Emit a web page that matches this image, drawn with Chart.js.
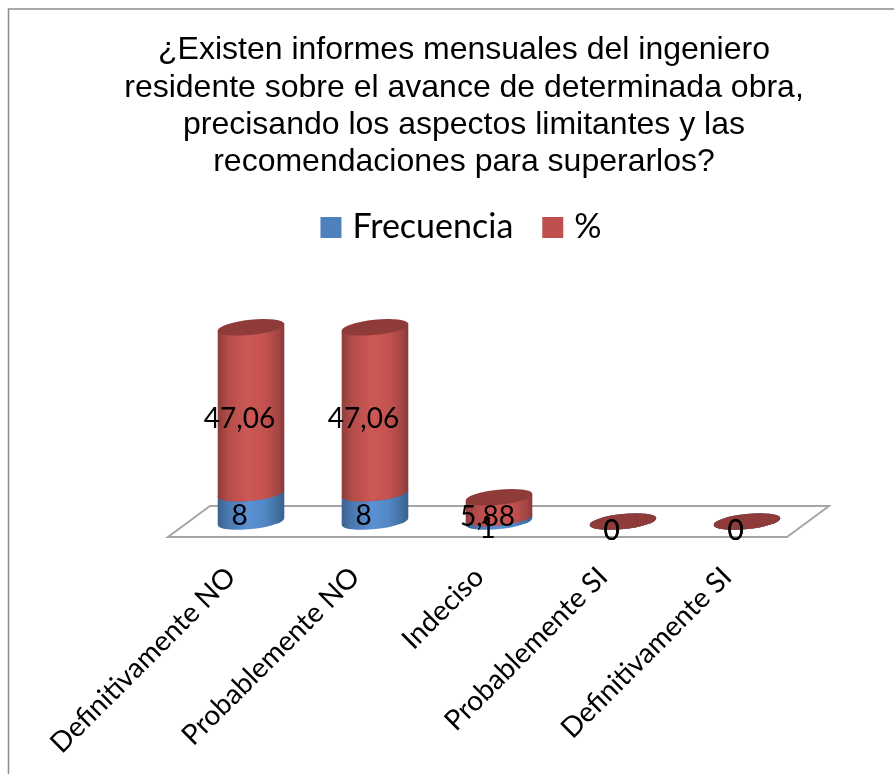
<!DOCTYPE html>
<html lang="es">
<head>
<meta charset="utf-8">
<title>Informes mensuales</title>
<script src="https://cdn.jsdelivr.net/npm/chart.js@4/dist/chart.umd.min.js"></script>
<style>html,body{margin:0;padding:0;background:#fff}canvas{display:block}</style>
</head>
<body>
<canvas id="c" width="894" height="774"></canvas>
<script>
const categories = ["Definitivamente NO","Probablemente NO","Indeciso","Probablemente SI","Definitivamente SI"];
const frecuencia = [8,8,1,0,0];
const porcentaje = [47.06,47.06,5.88,0,0];
const titleLines = ["¿Existen informes mensuales del ingeniero","residente sobre el avance de determinada obra,","precisando los aspectos limitantes y las","recomendaciones para superarlos?"];
const BLUE = "#4f81bd", RED = "#c0504d";
const Y_MAX = 75.7;

const SHADES = {
  [BLUE]: {stops:["#3a628f","#4a78b0","#5b90d2","#5388c6","#41709f","#37608e"], cap:"#3f6797"},
  [RED]:  {stops:["#8c3d3a","#b54c49","#cc5855","#c4524f","#a64643","#86393a"], cap:"#8f3b39"}
};
const TILT = -6*Math.PI/180, RY = 7.6;

class CylinderElement extends Chart.BarElement {
  static id = "cylinder";
  draw(ctx){
    const {x,y,base,width} = this.getProps(["x","y","base","width"]);
    const rx = width/2, s = SHADES[this.options.backgroundColor];
    const dx = rx*Math.cos(TILT), dy = rx*Math.sin(TILT);
    const g = ctx.createLinearGradient(x-rx,0,x+rx,0);
    [0,.16,.45,.7,.9,1].forEach((t,i)=>g.addColorStop(t,s.stops[i]));
    ctx.save();
    ctx.fillStyle = g;
    ctx.beginPath();
    ctx.ellipse(x,base,rx,RY,TILT,0,Math.PI);
    ctx.lineTo(x-dx,y-dy);
    ctx.lineTo(x+dx,y+dy);
    ctx.closePath();
    ctx.fill();
    ctx.fillStyle = s.cap;
    ctx.beginPath();
    ctx.ellipse(x,y,rx,RY,TILT,0,Math.PI*2);
    ctx.fill();
    ctx.restore();
  }
}
class CylinderController extends Chart.BarController {
  static id = "cylinder3d";
  static defaults = {...Chart.BarController.defaults, dataElementType:"cylinder"};
  static overrides = Chart.BarController.overrides;
}
Chart.register(CylinderElement, CylinderController);

const scene = {
  id:"scene",
  beforeDraw(chart){
    const c = chart.ctx;
    c.save();
    c.strokeStyle = "#8c8c8c"; c.lineWidth = 1.5;
    c.beginPath(); c.moveTo(8.5,chart.height); c.lineTo(8.5,9); c.lineTo(chart.width,9); c.stroke();
    c.restore();
  },
  beforeDatasetsDraw(chart){
    const c = chart.ctx, a = chart.chartArea, y0 = chart.scales.y.getPixelForValue(0);
    c.save();
    c.strokeStyle = "#a6a6a6"; c.lineWidth = 2;
    c.beginPath();
    c.moveTo(a.left-21,y0+15.5); c.lineTo(a.right-22,y0+15.5);
    c.lineTo(a.right+20,y0-15.5); c.lineTo(a.left+21,y0-15.5);
    c.closePath(); c.stroke();
    c.restore();
    // stack from the floor upward: first series first, so upper segments overlap lower ones
    chart.data.datasets.forEach((ds,i)=>chart.getDatasetMeta(i).controller.draw());
    c.save();
    c.font = "28px Lato"; c.fillStyle = "#000"; c.textAlign = "center"; c.textBaseline = "middle";
    chart.data.datasets.forEach((ds,i)=>{
      chart.getDatasetMeta(i).data.forEach((el,j)=>{
        c.fillText(String(ds.data[j]).replace(".",","), el.x-11.5, (el.y+el.base)/2+9);
      });
    });
    c.restore();
    return false;
  }
};

new Chart(document.getElementById("c"),{
  type:"cylinder3d",
  data:{labels:categories,datasets:[
    {label:"Frecuencia",data:frecuencia,backgroundColor:BLUE},
    {label:"%",data:porcentaje,backgroundColor:RED}
  ]},
  options:{
    responsive:false,animation:false,
    layout:{padding:{left:34}},
    datasets:{cylinder3d:{barPercentage:0.54,categoryPercentage:1}},
    plugins:{
      tooltip:{enabled:false},
      title:{display:true,text:titleLines,color:"#000",
        font:{family:"Liberation Sans",size:32,weight:"normal",lineHeight:1.16},
        padding:{top:32,bottom:-5}},
      legend:{display:true,position:"top",
        labels:{color:"#000",font:{family:"Lato",size:34},boxWidth:9,boxHeight:9,padding:35,
          generateLabels(chart){
            return Chart.defaults.plugins.legend.labels.generateLabels(chart).map(it=>({
              ...it,lineWidth:12,strokeStyle:it.fillStyle,lineJoin:"miter",lineDash:[]
            }));
          }}}
    },
    scales:{
      x:{stacked:true,grid:{display:false},border:{display:false},
        afterFit(s){s.height=252.5;},
        ticks:{autoSkip:false,minRotation:45,maxRotation:45,color:"#000",labelOffset:-20,padding:31,
          font:{family:"Lato",size:28}}},
      y:{stacked:true,min:0,max:Y_MAX,grid:{display:false},border:{display:false},
        ticks:{display:false},afterFit(s){s.width=155;}},
      yRight:{type:"linear",position:"right",grid:{display:false},border:{display:false},
        ticks:{display:false},afterFit(s){s.width=85;}}
    }
  },
  plugins:[scene]
});
</script>
</body>
</html>
